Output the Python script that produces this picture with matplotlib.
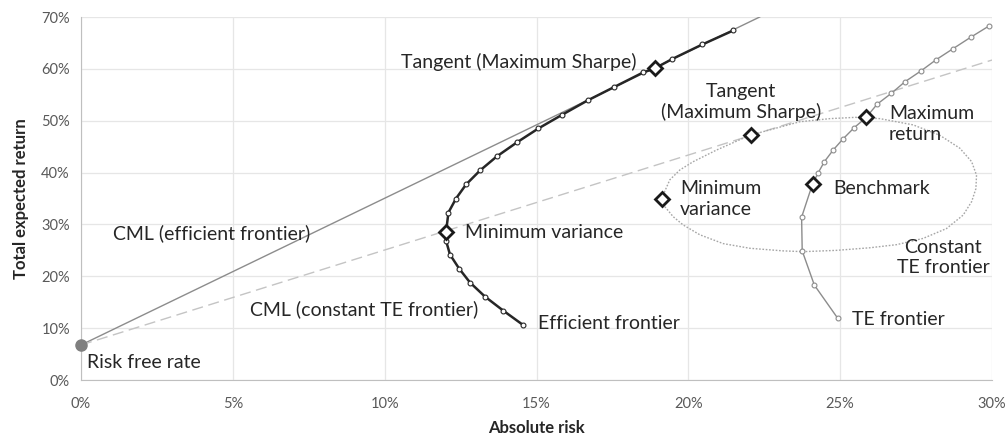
import matplotlib
matplotlib.use("Agg")
import matplotlib.pyplot as plt
from matplotlib.ticker import PercentFormatter

plt.rcParams["font.family"] = ["Lato", "DejaVu Sans"]

# Efficient frontier (absolute risk, total expected return)
ef_risk = [0.1456, 0.1390, 0.1330, 0.1281, 0.1245, 0.1215, 0.1202, 0.1202,
           0.1210, 0.1235, 0.1268, 0.1314, 0.1369, 0.1435, 0.1506, 0.1583,
           0.1668, 0.1756, 0.1851, 0.1890, 0.1947, 0.2046, 0.2148]
ef_ret = [0.106, 0.134, 0.161, 0.188, 0.215, 0.242, 0.269, 0.285,
          0.323, 0.350, 0.377, 0.404, 0.431, 0.458, 0.485, 0.511,
          0.539, 0.565, 0.593, 0.601, 0.619, 0.647, 0.674]

# Tracking error frontier
te_risk = [0.2492, 0.2415, 0.2375, 0.2373, 0.2409, 0.2428, 0.2448, 0.2477,
           0.2508, 0.2546, 0.2585, 0.2622, 0.2669, 0.2713, 0.2766, 0.2817,
           0.2872, 0.2930, 0.2991]
te_ret = [0.119, 0.183, 0.249, 0.314, 0.378, 0.400, 0.421, 0.4435,
          0.464, 0.4865, 0.506, 0.532, 0.553, 0.575, 0.596, 0.618,
          0.639, 0.661, 0.683]

# Constant TE frontier (closed curve)
cte_risk = [0.1912, 0.1939, 0.1972, 0.2016, 0.2093, 0.2203, 0.2367, 0.2466,
            0.2550, 0.2631, 0.2740, 0.2828, 0.2894, 0.2933, 0.2949, 0.2947,
            0.2933, 0.2905, 0.2850, 0.2773, 0.2686, 0.2598, 0.2488, 0.2378,
            0.2312, 0.2203, 0.2115, 0.2038, 0.1983, 0.1950, 0.1923, 0.1912]
cte_ret = [0.350, 0.386, 0.405, 0.421, 0.4435, 0.472, 0.498, 0.504,
           0.5065, 0.504, 0.492, 0.472, 0.447, 0.421, 0.395, 0.369,
           0.344, 0.318, 0.292, 0.273, 0.261, 0.255, 0.250, 0.2475,
           0.249, 0.254, 0.263, 0.280, 0.299, 0.315, 0.334, 0.350]

# Capital market lines, from the risk free rate
rf = 0.0675
cml_ef_risk = [0.0, 0.2235]
cml_ef_ret = [rf, 0.70]
cml_te_risk = [0.0, 0.30]
cml_te_ret = [rf, 0.617]

# Highlighted portfolios
key_risk = [0.1202, 0.1890, 0.1912, 0.2208, 0.2409, 0.2585]
key_ret = [0.285, 0.601, 0.350, 0.472, 0.378, 0.507]

fig = plt.figure(figsize=(10.08, 4.38), dpi=100)
ax = fig.add_axes([81 / 1008, 58 / 438, 911 / 1008, 363 / 438])

grid_c = "#e6e6e6"
ax.set_xlim(0, 0.30)
ax.set_ylim(0, 0.70)
ax.set_xticks([0, 0.05, 0.10, 0.15, 0.20, 0.25, 0.30])
ax.set_yticks([0, 0.1, 0.2, 0.3, 0.4, 0.5, 0.6, 0.7])
ax.xaxis.set_major_formatter(PercentFormatter(1.0, decimals=0))
ax.yaxis.set_major_formatter(PercentFormatter(1.0, decimals=0))
ax.grid(True, color=grid_c, linewidth=0.9)
ax.set_axisbelow(True)
for side in ["top", "right"]:
    ax.spines[side].set_visible(False)
for side in ["left", "bottom"]:
    ax.spines[side].set_color("#bfbfbf")
ax.tick_params(length=0, colors="#595959", labelsize=10.5, pad=8)
ax.tick_params(axis="x", pad=12)

ax.set_xlabel("Absolute risk", fontsize=12, fontweight="bold", color="#262626", labelpad=7)
ax.set_ylabel("Total expected return", fontsize=12, fontweight="bold", color="#262626", labelpad=9)

ax.plot(cml_ef_risk, cml_ef_ret, color="#8c8c8c", linewidth=1.0, zorder=2)
ax.plot(cml_te_risk, cml_te_ret, color="#c4c4c4", linewidth=1.0,
        linestyle=(0, (8, 4)), zorder=2)
ax.plot(cte_risk, cte_ret, color="#a6a6a6", linewidth=1.0,
        linestyle=(0, (1.2, 1.2)), zorder=2)
ax.plot(te_risk, te_ret, color="#8c8c8c", linewidth=1.0, marker="o",
        markersize=3.5, markerfacecolor="white", markeredgecolor="#8c8c8c",
        markeredgewidth=0.8, zorder=3)
ax.plot(ef_risk, ef_ret, color="#262626", linewidth=1.8, marker="o",
        markersize=3.5, markerfacecolor="white", markeredgecolor="#262626",
        markeredgewidth=0.8, zorder=4)
ax.plot(key_risk, key_ret, linestyle="none", marker="D", markersize=7,
        markerfacecolor="white", markeredgecolor="#1a1a1a",
        markeredgewidth=2.0, zorder=5, clip_on=False)
ax.plot([0.0], [rf], marker="o", markersize=8, color="#7f7f7f", zorder=5,
        clip_on=False)

tc = "#262626"
fs = 14
ls = 1.25
ax.text(0.183, 0.613, "Tangent (Maximum Sharpe)", ha="right", va="center", fontsize=fs, color=tc)
ax.text(0.1264, 0.2835, "Minimum variance", ha="left", va="center", fontsize=fs, color=tc)
ax.text(0.1505, 0.108, "Efficient frontier", ha="left", va="center", fontsize=fs, color=tc)
ax.text(0.0105, 0.2835, "CML (efficient frontier)", ha="left", va="center", fontsize=fs, color=tc)
ax.text(0.0556, 0.137, "CML (constant TE frontier)", ha="left", va="center", fontsize=fs, color=tc)
ax.text(0.002, 0.033, "Risk free rate", ha="left", va="center", fontsize=fs, color=tc)
ax.text(0.2173, 0.536, "Tangent\n(Maximum Sharpe)", ha="center", va="center", fontsize=fs, color=tc, linespacing=ls)
ax.text(0.266, 0.494, "Maximum\nreturn", ha="left", va="center", fontsize=fs, color=tc, linespacing=ls)
ax.text(0.1972, 0.349, "Minimum\nvariance", ha="left", va="center", fontsize=fs, color=tc, linespacing=ls)
ax.text(0.2476, 0.370, "Benchmark", ha="left", va="center", fontsize=fs, color=tc)
ax.text(0.284, 0.236, "Constant\nTE frontier", ha="center", va="center", fontsize=fs, color=tc, linespacing=ls)
ax.text(0.254, 0.116, "TE frontier", ha="left", va="center", fontsize=fs, color=tc)

fig.savefig("out.png", dpi=100)
